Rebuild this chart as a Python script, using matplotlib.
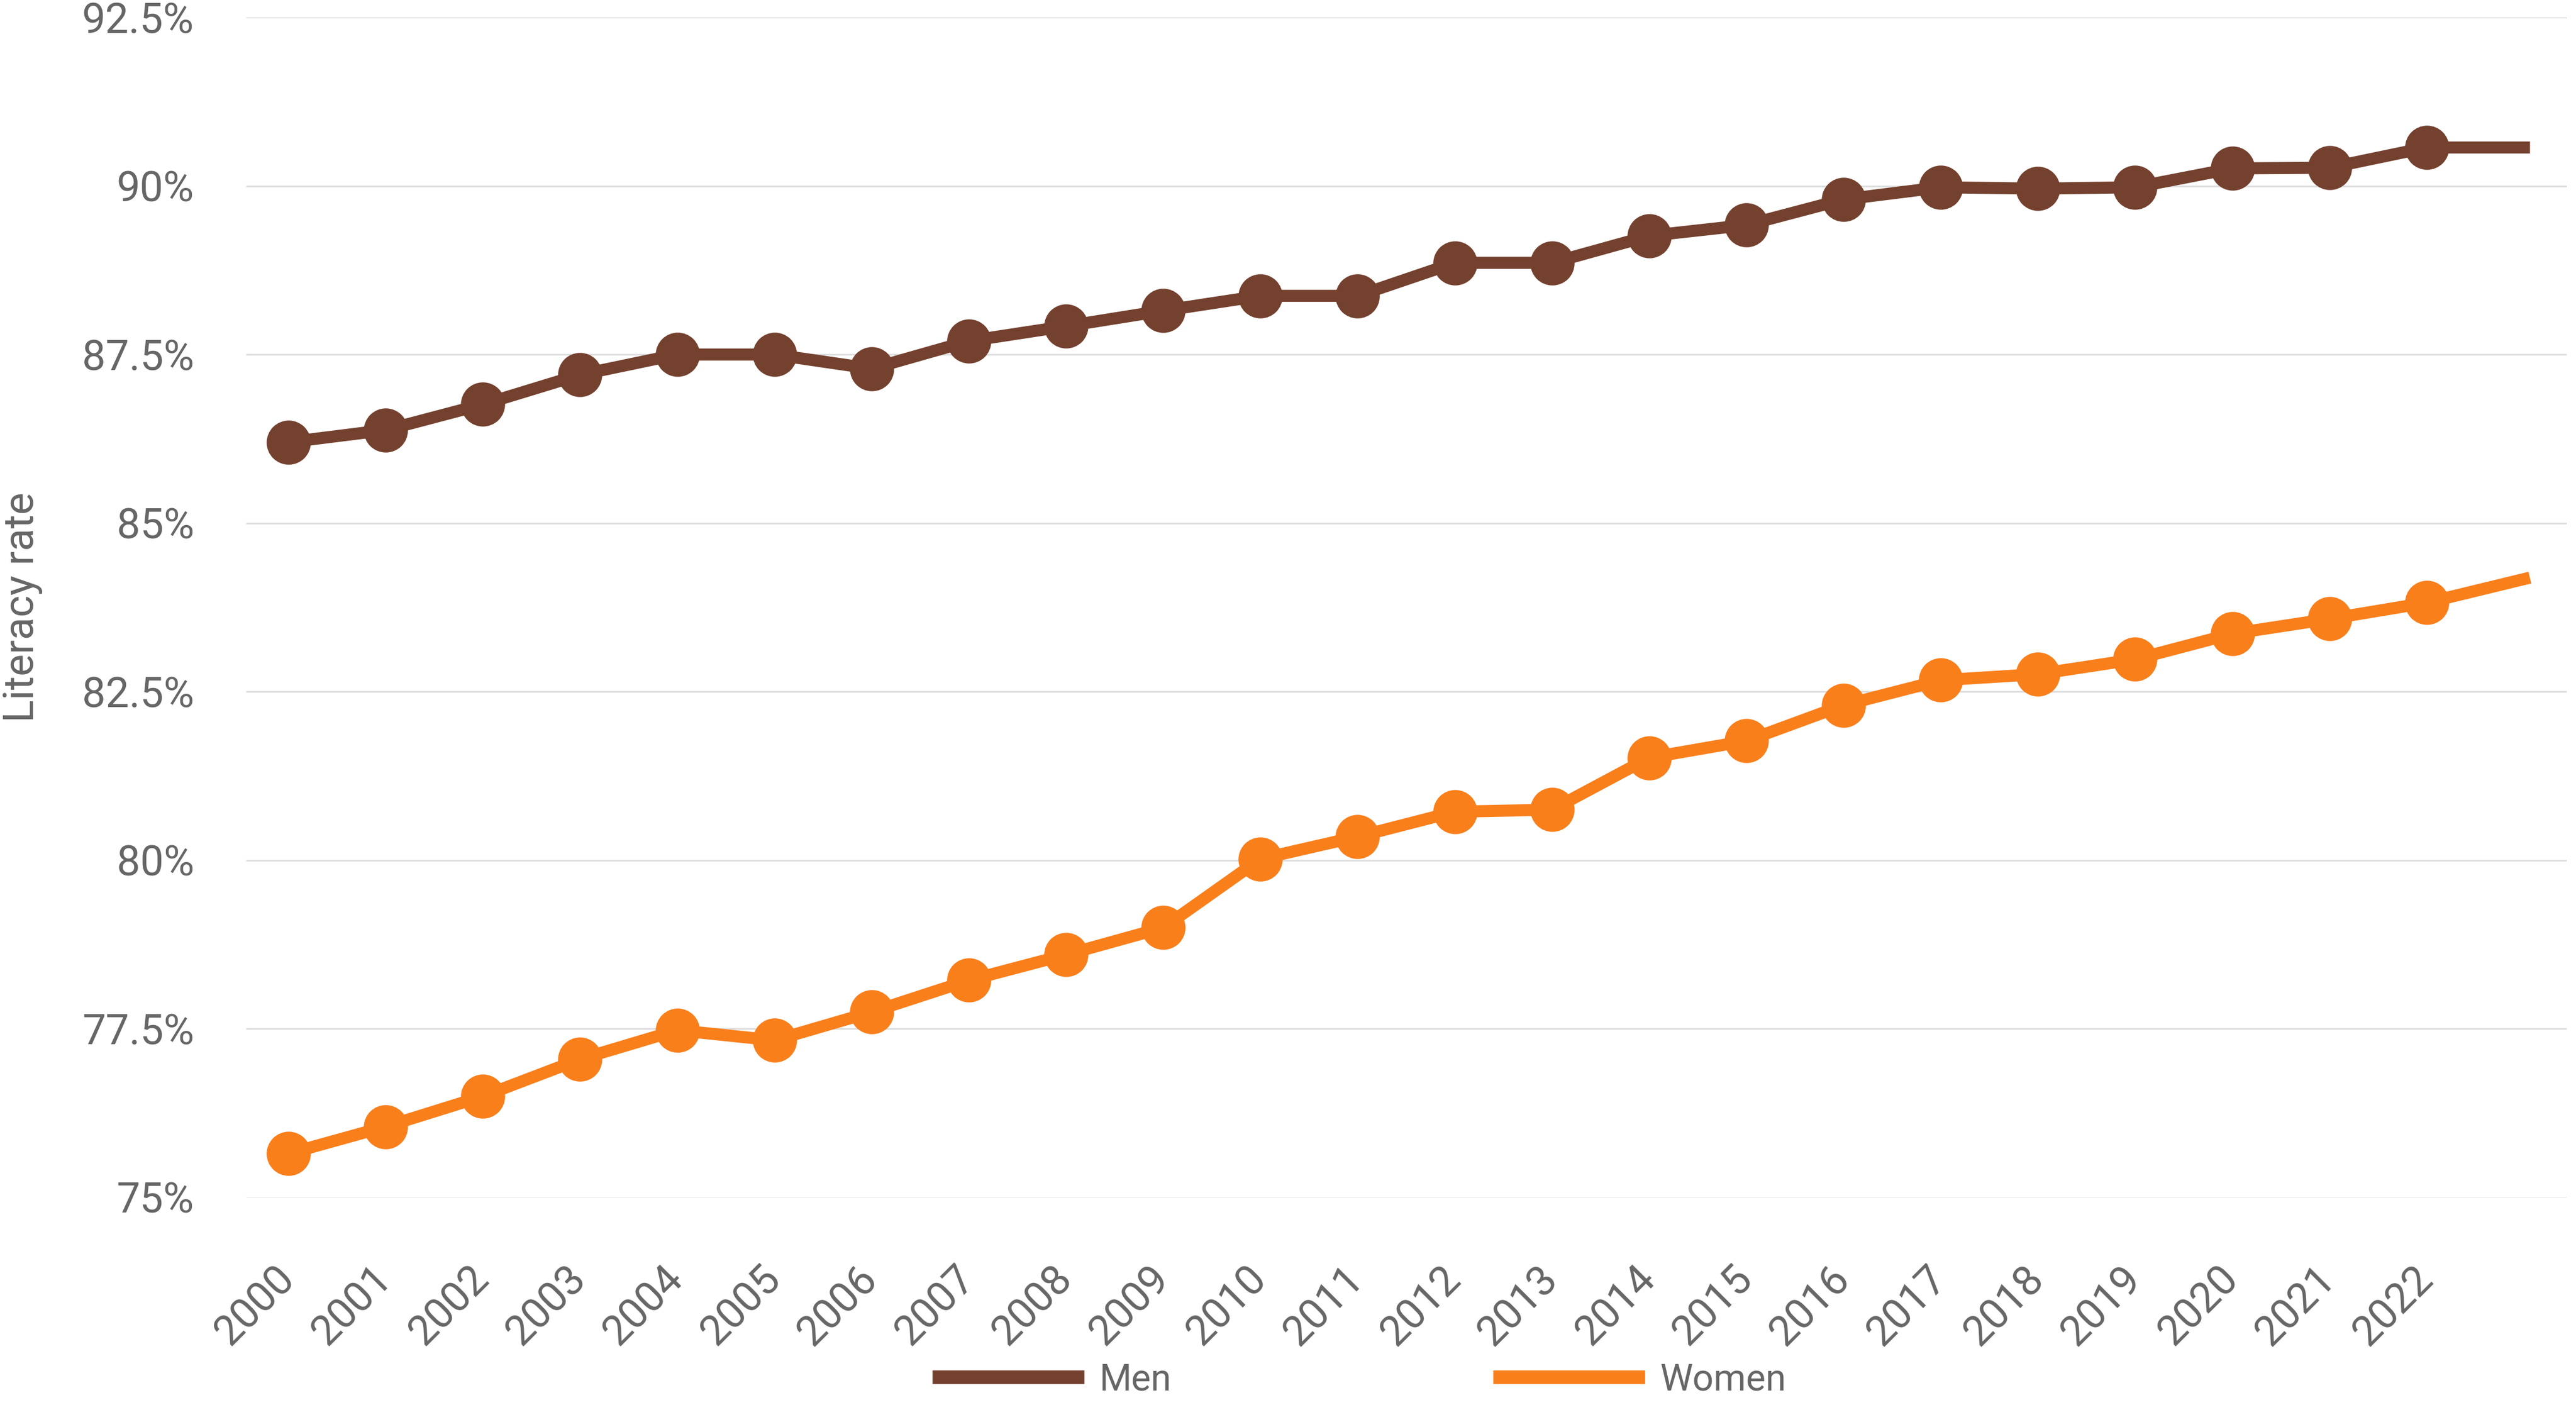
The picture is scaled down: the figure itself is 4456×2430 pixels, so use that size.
import matplotlib
matplotlib.use("Agg")
import matplotlib.pyplot as plt
from matplotlib.ticker import FuncFormatter, FixedLocator

plt.rcParams['font.family'] = ['Roboto', 'DejaVu Sans']

years = list(range(2000, 2024))
tick_labels = [str(y) for y in range(2000, 2023)]
men = [86.20, 86.38, 86.76, 87.20, 87.50, 87.50, 87.29, 87.70, 87.92, 88.15,
       88.37, 88.37, 88.86, 88.86, 89.26, 89.42, 89.80, 89.98, 89.96, 89.98,
       90.26, 90.27, 90.57, 90.57]
women = [75.65, 76.05, 76.50, 77.05, 77.48, 77.33, 77.75, 78.22, 78.60, 79.00,
         80.02, 80.35, 80.72, 80.75, 81.52, 81.77, 82.30, 82.67, 82.76, 82.98,
         83.36, 83.58, 83.82, 84.17]
y_ticks = [75, 77.5, 80, 82.5, 85, 87.5, 90, 92.5]

MEN_C = '#74412F'
WOMEN_C = '#F97F1B'
TXT = '#666666'

fig = plt.figure(figsize=(44.56, 24.30), dpi=100)
ax = fig.add_axes([426/4456, 1-2071/2430, (4440-426)/4456, (2071-30)/2430])

x = list(range(len(years)))
n_mark = len(tick_labels)
for vals, c, lab in [(men, MEN_C, 'Men'), (women, WOMEN_C, 'Women')]:
    ax.plot(x, vals, color=c, lw=15, solid_joinstyle='miter', zorder=3, label=lab)
    ax.plot(x[:n_mark], vals[:n_mark], ls='none', marker='o', ms=54,
            mfc=c, mec=c, zorder=4)

ax.set_xlim(-0.434, 23.44)
ax.set_ylim(75, 92.5)
ax.yaxis.set_major_locator(FixedLocator(y_ticks))
ax.yaxis.set_major_formatter(FuncFormatter(lambda v, p: f"{v:g}%"))
ax.set_xticks(range(len(tick_labels)))
ax.set_xticklabels(tick_labels, rotation=45, ha='right', va='center',
                   rotation_mode='anchor')
ax.tick_params(axis='x', length=0, pad=94, labelsize=52, labelcolor=TXT)
ax.tick_params(axis='y', length=0, pad=65, labelsize=52, labelcolor=TXT)
ax.grid(axis='y', color='#DDDDDD', lw=2)
ax.set_axisbelow(True)
for s in ax.spines.values():
    s.set_visible(False)

fig.text(40/4456, 1-1050/2430, 'Literacy rate', rotation=90, ha='center',
         va='center', fontsize=52, color=TXT)

handles, labels = ax.get_legend_handles_labels()
leg = fig.legend(handles, labels, loc='center', bbox_to_anchor=(0.529, 0.018),
                 ncol=2, frameon=False, fontsize=46, labelcolor=TXT,
                 handlelength=3.75, handletextpad=0.58, columnspacing=8.9)
for h in leg.get_lines():
    h.set_linewidth(17)

fig.savefig('out.png', dpi=100, facecolor='white')
